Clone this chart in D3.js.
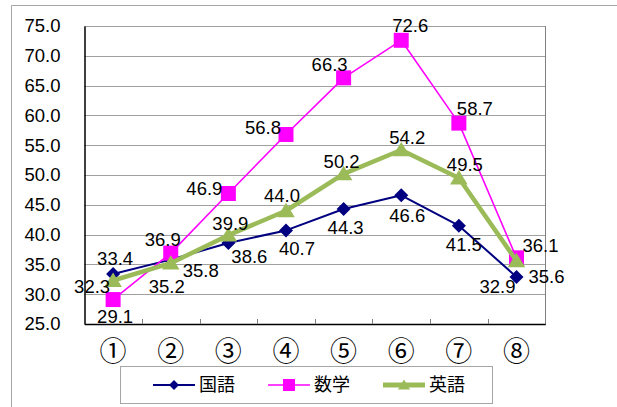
<!DOCTYPE html>
<html>
<head>
<meta charset="utf-8">
<script src="https://cdn.jsdelivr.net/npm/d3@7"></script>
<style>
  body { margin: 0; background: #fff; }
  text { font-family: "Liberation Sans", "Noto Sans CJK JP", sans-serif; fill: #000; }
</style>
</head>
<body>
<script>
const categories = ["①", "②", "③", "④", "⑤", "⑥", "⑦", "⑧"];
const kokugo = [33.4, 35.8, 38.6, 40.7, 44.3, 46.6, 41.5, 32.9];
const sugaku = [29.1, 36.9, 46.9, 56.8, 66.3, 72.6, 58.7, 36.1];
const eigo = [32.3, 35.2, 39.9, 44.0, 50.2, 54.2, 49.5, 35.6];
const yTicks = [25, 30, 35, 40, 45, 50, 55, 60, 65, 70, 75];

// label offsets (dx, dy) from each marker
const kokugoOff = [[2, -15], [30, 11], [21, 14], [11, 18], [2, 19], [6, 20], [5, 19], [-19, 10]];
const sugakuOff = [[2, 17], [-8, -14], [-24, -5], [-23, -7], [-14, -13], [9, -15], [16, -15], [24, -12]];
const eigoOff = [[-21, 6], [-4, 23], [2, -12], [-4, -15], [-2, -12], [6, -12], [6, -13], [30, 16]];

const width = 617;
const height = 407;
const plotLeft = 84.3, plotRight = 545.3, plotTop = 26, plotBottom = 324;

const svg = d3
  .select("body")
  .append("svg")
  .attr("width", width)
  .attr("height", height);

// outer frame
svg.append("path")
  .attr("d", `M11.5,${height} V5.5 H${width}`)
  .attr("fill", "none")
  .attr("stroke", "#a6a6a6")
  .attr("stroke-width", 1);

const x = d3.scaleBand().domain(categories).range([plotLeft, plotRight]).padding(0);
const y = d3.scaleLinear().domain([25, 75]).range([plotBottom, plotTop]);

// gridlines
svg.append("g")
  .selectAll("line")
  .data(yTicks.slice(1))
  .enter()
  .append("line")
  .attr("x1", plotLeft)
  .attr("x2", plotRight)
  .attr("y1", (d) => Math.round(y(d)) + 0.5)
  .attr("y2", (d) => Math.round(y(d)) + 0.5)
  .attr("stroke", "#a0a0a0")
  .attr("stroke-width", 1);

// right border of plot
svg.append("line")
  .attr("x1", Math.round(plotRight) + 0.5).attr("x2", Math.round(plotRight) + 0.5)
  .attr("y1", plotTop).attr("y2", plotBottom)
  .attr("stroke", "#808080");

// y axis
const yAxis = svg.append("g")
  .attr("transform", `translate(${Math.round(plotLeft) + 0.5},0)`)
  .call(d3.axisLeft(y).tickValues(yTicks).tickFormat(d3.format(".1f")).tickSize(0).tickPadding(24));
yAxis.select(".domain").attr("stroke", "#000").attr("stroke-width", 1.5);
yAxis.selectAll("text").attr("font-size", 18.5).attr("font-family", "Liberation Sans, sans-serif");

// x axis
const xAxis = svg.append("g")
  .attr("transform", `translate(0,${plotBottom})`)
  .call(d3.axisBottom(x).tickSize(0));
xAxis.select(".domain").attr("stroke", "#000").attr("stroke-width", 1.5);
xAxis.selectAll("text")
  .attr("y", 28)
  .attr("dy", null)
  .attr("dominant-baseline", "central")
  .attr("font-size", 27)
  .attr("font-family", "Noto Sans CJK JP, sans-serif");

// inward tick marks between categories
svg.append("g")
  .selectAll("line")
  .data(categories.slice(1))
  .enter()
  .append("line")
  .attr("x1", (d) => Math.round(x(d)) + 0.5)
  .attr("x2", (d) => Math.round(x(d)) + 0.5)
  .attr("y1", plotBottom)
  .attr("y2", plotBottom - 5)
  .attr("stroke", "#808080");

const cx = (i) => x(categories[i]) + x.bandwidth() / 2;

const series = [
  { name: "国語", values: kokugo, off: kokugoOff, color: "#000080", width: 2, marker: "diamond" },
  { name: "数学", values: sugaku, off: sugakuOff, color: "#ff00ff", width: 1.6, marker: "square" },
  { name: "英語", values: eigo, off: eigoOff, color: "#9bbb59", width: 4.5, marker: "triangle" },
];

function markerPath(type, s) {
  if (type === "diamond") return `M0,${-s} L${s},0 L0,${s} L${-s},0 Z`;
  if (type === "square") return `M${-s},${-s} H${s} V${s} H${-s} Z`;
  return `M0,${-s} L${s * 1.1},${s * 0.8} L${-s * 1.1},${s * 0.8} Z`;
}
const markerSize = { diamond: 7, square: 7.5, triangle: 8 };

const line = d3.line()
  .x((d, i) => cx(i))
  .y((d) => y(d));

series.forEach((s) => {
  svg.append("path")
    .datum(s.values)
    .attr("d", line)
    .attr("fill", "none")
    .attr("stroke", s.color)
    .attr("stroke-width", s.width)
    .attr("stroke-linejoin", "round");

  svg.append("g")
    .selectAll("path")
    .data(s.values)
    .enter()
    .append("path")
    .attr("transform", (d, i) => `translate(${cx(i)},${y(d)})`)
    .attr("d", markerPath(s.marker, markerSize[s.marker]))
    .attr("fill", s.color);
});

// data labels
series.forEach((s) => {
  svg.append("g")
    .selectAll("text")
    .data(s.values)
    .enter()
    .append("text")
    .attr("x", (d, i) => cx(i) + s.off[i][0])
    .attr("y", (d, i) => y(d) + s.off[i][1])
    .attr("text-anchor", "middle")
    .attr("dominant-baseline", "central")
    .attr("font-size", 18.5)
    .text((d) => d.toFixed(1));
});

// legend
const legend = svg.append("g");
legend.append("rect")
  .attr("x", 120.5)
  .attr("y", 366.5)
  .attr("width", 372)
  .attr("height", 37)
  .attr("fill", "#fff")
  .attr("stroke", "#a6a6a6");

const legendX = [153, 268, 383];
const legendMarkerSize = { diamond: 5, square: 6, triangle: 5.5 };
series.forEach((s, i) => {
  const g = legend.append("g").attr("transform", `translate(${legendX[i]},385)`);
  g.append("line")
    .attr("x1", 0).attr("x2", 42)
    .attr("stroke", s.color)
    .attr("stroke-width", s.width === 4.5 ? 5 : s.width);
  g.append("path")
    .attr("transform", "translate(21,0)")
    .attr("d", markerPath(s.marker, legendMarkerSize[s.marker]))
    .attr("fill", s.color);
  g.append("text")
    .attr("x", 46)
    .attr("dominant-baseline", "central")
    .attr("font-size", 18)
    .attr("font-family", "Noto Sans CJK JP, sans-serif")
    .text(s.name);
});
</script>
</body>
</html>
